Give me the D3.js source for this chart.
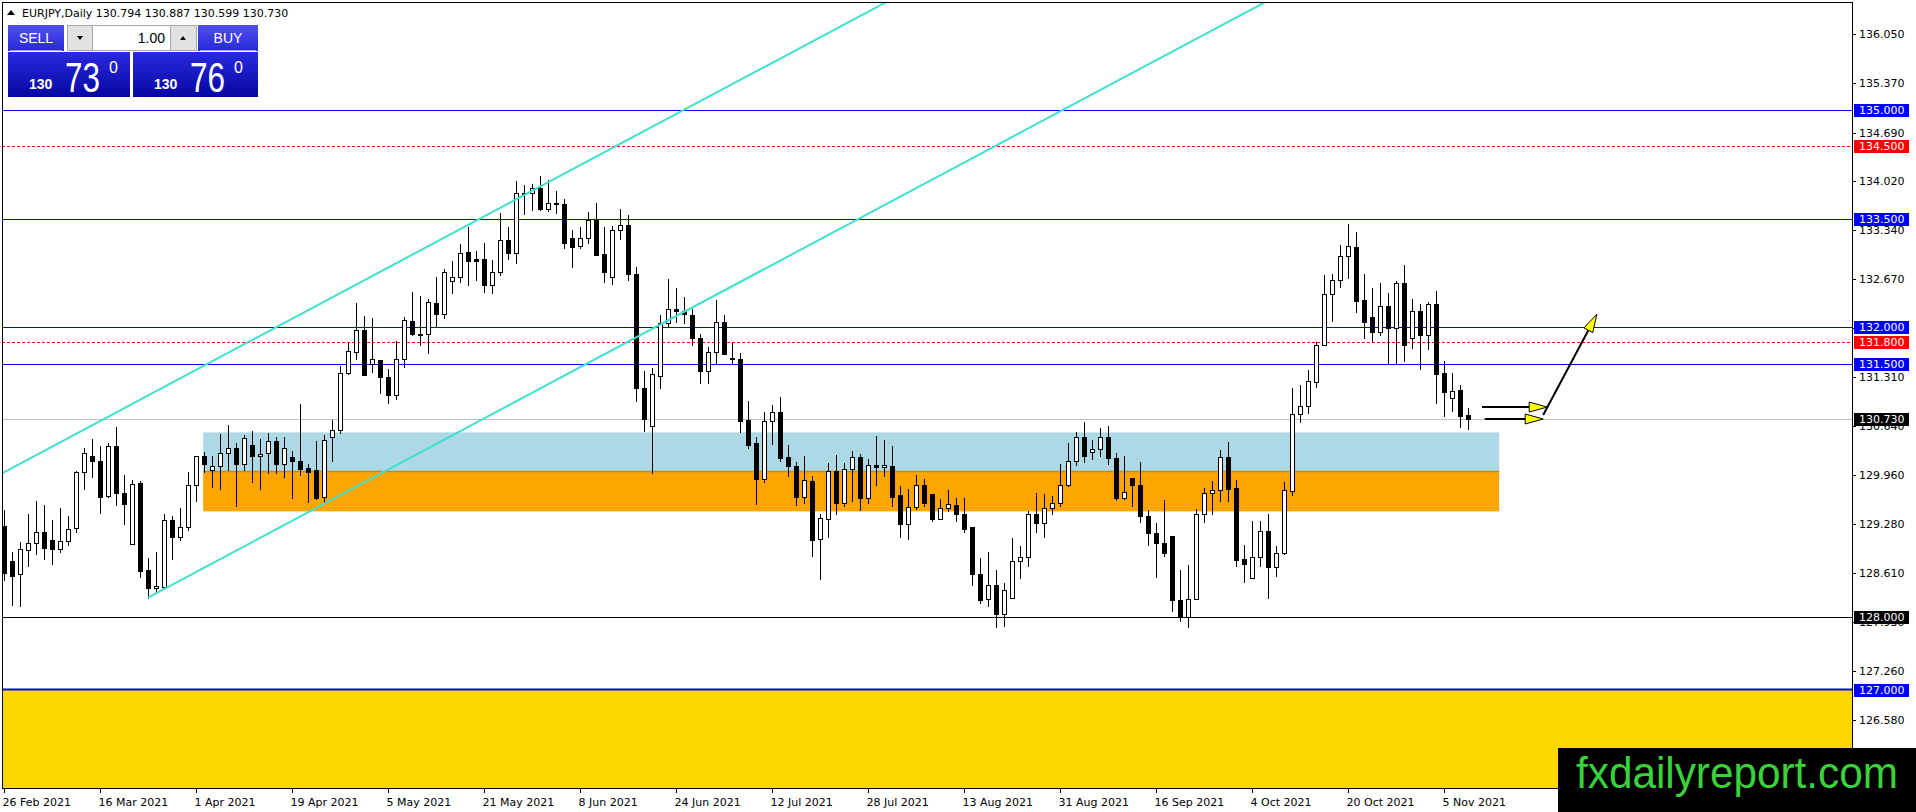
<!DOCTYPE html>
<html><head><meta charset="utf-8">
<script src="https://cdn.jsdelivr.net/npm/d3@7"></script>
<style>html,body{margin:0;padding:0;background:#fff;overflow:hidden}svg{display:block}</style>
</head><body>
<svg id="chart" width="1916" height="812"></svg>
<script>
// ---------------- DATA ----------------
const symbolTitle = "EURJPY,Daily";
const startDate = "2021-02-26";
const opens = [129.26,128.78,128.59,128.92,129.02,129.17,129.06,128.94,129.05,129.23,
130.00,130.22,130.16,129.67,130.36,129.72,129.01,129.85,128.65,128.40,
128.42,129.34,129.11,129.25,129.82,130.23,130.03,130.09,130.27,130.34,
130.11,130.38,130.22,130.26,130.43,130.11,130.21,130.16,130.06,130.03,
129.66,130.48,130.58,131.37,131.66,131.97,131.50,131.55,131.32,131.06,
131.57,132.09,131.91,131.91,132.34,132.19,132.64,132.69,133.04,132.94,
132.94,132.59,132.76,133.21,133.02,133.86,133.86,133.92,133.63,133.72,
133.70,133.23,133.12,133.23,133.48,133.01,132.69,133.35,133.42,132.73,
131.16,130.64,131.33,132.06,132.26,132.22,132.17,131.85,131.40,131.66,
132.07,131.58,131.57,130.72,130.40,129.91,130.71,130.83,130.21,130.09,
129.66,129.88,129.08,129.35,130.02,129.57,130.05,130.21,129.65,130.10,
130.07,130.09,129.69,129.28,129.52,129.82,129.70,129.35,129.50,129.55,
129.43,129.24,128.59,128.25,128.45,128.04,128.27,128.77,128.83,129.42,
129.30,129.50,129.57,129.83,130.16,130.49,130.28,130.32,130.49,130.19,
129.65,129.92,129.83,129.40,129.16,129.02,129.12,128.24,128.00,128.25,
129.43,129.72,129.75,130.21,129.78,128.80,128.54,128.83,129.19,128.69,
128.88,129.74,130.81,130.92,131.24,131.76,132.46,132.66,132.99,133.11,
132.38,132.14,131.93,132.30,131.99,132.61,131.86,132.22,131.89,132.32,
131.37,131.02,131.14,130.794];
const highs = [129.48,128.90,129.04,129.43,129.60,129.55,129.34,129.50,129.39,130.02,
130.34,130.46,130.36,130.41,130.62,129.96,129.90,129.88,128.81,128.90,
129.43,129.39,129.50,130.00,130.22,130.28,130.22,130.53,130.65,130.40,
130.52,130.57,130.46,130.54,130.49,130.49,130.29,130.94,130.11,130.43,
130.51,130.72,131.46,131.79,132.34,132.16,132.13,131.55,131.43,131.81,
132.14,132.49,132.43,132.39,132.70,132.81,132.92,133.15,133.39,133.05,
133.17,132.93,133.58,133.39,134.02,133.97,133.98,134.09,134.03,133.88,
133.77,133.34,133.38,133.59,133.72,133.39,133.40,133.64,133.55,132.83,
131.40,131.44,132.17,132.67,132.54,132.42,132.25,131.91,131.73,132.38,
132.17,131.80,131.65,130.98,130.49,130.83,130.93,131.04,130.38,130.14,
130.23,129.95,129.42,130.13,130.24,130.13,130.30,130.25,130.18,130.50,
130.45,130.36,129.81,129.77,129.96,129.91,129.70,129.63,129.76,129.65,
129.65,129.24,128.82,128.90,128.65,128.47,129.09,128.98,129.46,129.71,
129.70,129.67,130.11,130.41,130.55,130.69,130.45,130.61,130.64,130.26,
130.22,129.92,130.14,129.48,129.30,129.62,129.12,128.65,128.72,129.49,
129.78,129.88,130.31,130.42,129.90,128.99,129.33,129.33,129.43,128.98,
129.86,131.17,131.21,131.41,131.80,132.72,132.73,133.14,133.43,133.31,
132.73,132.55,132.61,132.47,132.64,132.86,132.39,132.32,132.35,132.50,
131.54,131.37,131.21,130.887];
const lows = [128.51,128.17,128.15,128.70,128.87,128.80,128.74,128.90,129.00,129.18,
129.77,129.94,129.44,129.66,129.55,129.28,129.01,128.56,128.27,128.34,
128.41,128.80,129.07,129.20,129.61,130.00,129.79,129.77,130.03,129.53,
130.03,129.86,129.77,129.99,129.99,129.94,129.65,129.96,129.59,129.63,
129.58,130.16,130.54,131.35,131.56,131.34,131.39,131.10,130.95,131.01,
131.45,131.90,131.75,131.64,132.00,132.13,132.47,132.63,132.59,132.65,
132.49,132.48,132.72,132.94,132.89,133.57,133.62,133.62,133.61,133.58,
133.10,132.84,133.09,133.16,133.00,132.62,132.60,133.22,132.65,130.99,
130.57,129.99,131.17,132.01,132.07,132.06,131.76,131.23,131.23,131.49,
131.63,131.49,130.56,130.34,129.56,129.87,130.39,130.15,129.95,129.55,
129.57,128.84,128.53,129.10,129.43,129.53,129.61,129.48,129.57,129.82,
129.95,129.54,129.10,129.08,129.49,129.53,129.33,129.35,129.46,129.33,
129.17,128.45,128.20,128.16,127.87,127.88,128.26,128.54,128.71,129.17,
129.10,129.43,129.54,129.81,130.10,130.14,130.18,130.23,130.11,129.62,
129.63,129.53,129.31,129.00,128.55,128.85,128.08,127.94,127.87,128.25,
129.32,129.42,129.60,129.61,128.71,128.49,128.54,128.70,128.27,128.57,
128.87,129.68,130.69,130.82,131.18,131.75,132.09,132.56,132.68,132.21,
131.86,131.80,131.90,131.51,131.49,131.54,131.72,131.42,131.70,130.96,
130.78,130.84,130.62,130.599];
const closes = [128.61,128.57,128.94,129.02,129.17,128.96,128.94,129.05,129.22,130.00,
130.26,130.15,129.66,130.36,129.72,129.56,129.84,128.64,128.40,128.43,
129.34,129.11,129.25,129.82,130.22,130.12,130.08,130.26,130.34,130.11,
130.47,130.22,130.25,130.43,130.11,130.33,130.15,130.04,130.01,129.65,
130.44,130.58,131.37,131.67,131.97,131.34,131.56,131.31,131.06,131.57,
132.10,131.91,131.90,132.35,132.19,132.76,132.69,133.02,132.92,132.92,
132.59,132.76,133.21,133.02,133.86,133.85,133.92,133.63,133.72,133.70,
133.17,133.11,133.23,133.48,133.00,132.76,133.35,133.41,132.73,131.17,
130.74,131.35,132.06,132.26,132.22,132.19,131.85,131.40,131.66,132.08,
131.63,131.57,130.71,130.38,129.91,130.71,130.83,130.20,130.08,129.66,
129.89,129.06,129.37,130.02,129.57,130.04,130.21,129.65,130.10,130.07,
130.10,129.66,129.28,129.52,129.82,129.57,129.35,129.50,129.56,129.43,
129.21,128.59,128.24,128.45,128.05,128.37,128.78,128.83,129.42,129.30,
129.50,129.57,129.83,130.16,130.49,130.22,130.32,130.49,130.19,129.65,
129.73,129.83,129.39,129.16,129.03,128.88,128.23,128.00,128.25,129.43,
129.72,129.75,130.21,129.77,128.79,128.74,128.83,129.19,128.69,128.88,
129.75,130.81,130.92,131.26,131.76,132.46,132.66,132.99,133.12,132.37,
132.08,131.93,132.30,131.99,132.61,131.75,132.22,131.89,132.32,131.36,
131.11,131.12,130.78,130.730];

const priceTicks = ["136.050","135.370","134.690","134.020","133.340","132.670","131.990",
  "131.310","130.640","129.960","129.280","128.610","127.930","127.260","126.580"];
const dateTicks = ["26 Feb 2021","16 Mar 2021","1 Apr 2021","19 Apr 2021","5 May 2021",
  "21 May 2021","8 Jun 2021","24 Jun 2021","12 Jul 2021","28 Jul 2021","13 Aug 2021",
  "31 Aug 2021","16 Sep 2021","4 Oct 2021","20 Oct 2021","5 Nov 2021"];

const blueLevels = [135.0, 133.5, 132.0, 131.5];
const blackLevels = [128.0];
const redLevels = [134.5, 131.8];
const floorLevel = 127.0;
const currentPrice = 130.730;
const zoneBars = [24.9, 186.9];
const blueZone = [130.55, 130.02];
const orangeZone = [130.02, 129.46];
const channelUpper = [[-1, 129.941], [140, 138.24]];
const channelLower = [[18, 128.27], [170, 137.217]];
const arrowsH = [[[184.75, 130.90], [192.9, 130.90]], [[185.1, 130.735], [192.4, 130.735]]];
const arrowUp = [[192.4, 130.79], [199.1, 132.18]];
const bidParts = ["130", "73", "0"];
const askParts = ["130", "76", "0"];
const lotSize = "1.00";

// ---------------- SETUP ----------------
const svg = d3.select("#chart");
const W = 1916, H = 812;
const plot = {left: 2, right: 1852, top: 2, bottom: 788};
const FONT = "DejaVu Sans, sans-serif";

const y = d3.scaleLinear().domain([126.58, 136.05]).range([720, 34]);
const x = d3.scaleLinear().domain([0, opens.length - 1]).range([4, 4 + 8 * (opens.length - 1)]);

// trading dates (weekdays)
const dates = [];
{
  let d = d3.timeParse("%Y-%m-%d")(startDate);
  while (dates.length < opens.length) {
    const wd = d.getDay();
    if (wd !== 0 && wd !== 6) dates.push(new Date(d));
    d = d3.timeDay.offset(d, 1);
  }
}
const fmtDate = d3.timeFormat("%-d %b %Y");
const bars = opens.map((o, i) => ({i, o, h: highs[i], l: lows[i], c: closes[i], date: dates[i]}));

svg.append("rect").attr("width", W).attr("height", H).attr("fill", "#fff");

const defs = svg.append("defs");
defs.append("clipPath").attr("id", "plotClip").append("rect")
  .attr("x", plot.left).attr("y", plot.top)
  .attr("width", plot.right - plot.left).attr("height", plot.bottom - plot.top);
const g1 = defs.append("linearGradient").attr("id", "btnGrad").attr("x1", 0).attr("x2", 0).attr("y1", 0).attr("y2", 1);
g1.append("stop").attr("offset", "0%").attr("stop-color", "#5050f0");
g1.append("stop").attr("offset", "100%").attr("stop-color", "#2828d6");
const g2 = defs.append("linearGradient").attr("id", "boxGrad").attr("x1", 0).attr("x2", 0).attr("y1", 0).attr("y2", 1);
g2.append("stop").attr("offset", "0%").attr("stop-color", "#2a2ae0");
g2.append("stop").attr("offset", "100%").attr("stop-color", "#0606a2");

const P = svg.append("g").attr("clip-path", "url(#plotClip)");

// floor yellow area
P.append("rect").attr("x", plot.left).attr("width", plot.right - plot.left)
  .attr("y", y(floorLevel)).attr("height", plot.bottom - y(floorLevel)).attr("fill", "#ffd700");

// zones
P.append("rect").attr("x", x(zoneBars[0])).attr("width", x(zoneBars[1]) - x(zoneBars[0]))
  .attr("y", y(blueZone[0])).attr("height", y(blueZone[1]) - y(blueZone[0])).attr("fill", "#add8e6");
P.append("rect").attr("x", x(zoneBars[0])).attr("width", x(zoneBars[1]) - x(zoneBars[0]))
  .attr("y", y(orangeZone[0])).attr("height", y(orangeZone[1]) - y(orangeZone[0])).attr("fill", "#ffa500");
P.append("line").attr("x1", x(zoneBars[0])).attr("x2", x(zoneBars[1]))
  .attr("y1", Math.round(y(orangeZone[0])) + 0.5).attr("y2", Math.round(y(orangeZone[0])) + 0.5)
  .attr("stroke", "#b08d3c").attr("stroke-width", 1.5);

// horizontal levels
const hl = (v, color, w, dash) => P.append("line")
  .attr("x1", plot.left).attr("x2", plot.right)
  .attr("y1", Math.round(y(v)) + 0.5).attr("y2", Math.round(y(v)) + 0.5)
  .attr("stroke", color).attr("stroke-width", w).attr("stroke-dasharray", dash || null)
  .attr("shape-rendering", "crispEdges");
hl(currentPrice, "#c0c0c0", 1);
blueLevels.forEach(v => hl(v, "#0000ff", 1));
blackLevels.forEach(v => hl(v, "#000000", 1));
redLevels.forEach(v => hl(v, "#ff0000", 1, "3,2"));
P.append("line").attr("x1", plot.left).attr("x2", plot.right)
  .attr("y1", y(floorLevel)).attr("y2", y(floorLevel)).attr("stroke", "#0000ff").attr("stroke-width", 2);

// candles
const cg = P.append("g").attr("shape-rendering", "crispEdges")
  .selectAll("g").data(bars).join("g");
cg.append("line")
  .attr("x1", d => Math.round(x(d.i)) + 0.5).attr("x2", d => Math.round(x(d.i)) + 0.5)
  .attr("y1", d => Math.round(y(d.h))).attr("y2", d => Math.round(y(d.l)) + 1)
  .attr("stroke", "#000");
cg.append("rect")
  .attr("x", d => Math.round(x(d.i)) - 1.5).attr("width", 4)
  .attr("y", d => Math.round(y(Math.max(d.o, d.c))) + 0.5)
  .attr("height", d => Math.max(1, Math.round(y(Math.min(d.o, d.c))) - Math.round(y(Math.max(d.o, d.c)))))
  .attr("fill", d => d.c >= d.o ? "#fff" : "#000").attr("stroke", "#000");

// channel lines
const lineGen = d3.line().x(d => x(d[0])).y(d => y(d[1]));
[channelUpper, channelLower].forEach(c => P.append("path").attr("d", lineGen(c))
  .attr("stroke", "#40e0d0").attr("stroke-width", 2).attr("fill", "none"));

// arrows
function arrowHead(p0, p1) {
  const x0 = x(p0[0]), y0 = y(p0[1]), x1 = x(p1[0]), y1 = y(p1[1]);
  const a = Math.atan2(y1 - y0, x1 - x0), L = 18, Wd = 5;
  const bx = x1 - L * Math.cos(a), by = y1 - L * Math.sin(a);
  const px = -Math.sin(a) * Wd, py = Math.cos(a) * Wd;
  return [[x1, y1], [bx + px, by + py], [bx - px, by - py]];
}
function drawArrow(seg) {
  const head = arrowHead(seg[0], seg[1]);
  P.append("line").attr("x1", x(seg[0][0])).attr("y1", y(seg[0][1]))
    .attr("x2", (head[1][0] + head[2][0]) / 2).attr("y2", (head[1][1] + head[2][1]) / 2)
    .attr("stroke", "#000").attr("stroke-width", 2);
  P.append("polygon").attr("points", head.map(p => p.join(",")).join(" "))
    .attr("fill", "#ffff00").attr("stroke", "#000").attr("stroke-width", 1);
}
arrowsH.forEach(drawArrow);
drawArrow(arrowUp);

// frame
svg.append("rect").attr("x", plot.left + 0.5).attr("y", plot.top + 0.5)
  .attr("width", plot.right - plot.left).attr("height", plot.bottom - plot.top)
  .attr("fill", "none").attr("stroke", "#000").attr("shape-rendering", "crispEdges");

// price axis
const ax = svg.append("g").attr("font-family", FONT).attr("font-size", 11);
priceTicks.forEach(t => {
  const yy = Math.round(y(+t)) + 0.5;
  ax.append("line").attr("x1", plot.right).attr("x2", plot.right + 4).attr("y1", yy).attr("y2", yy)
    .attr("stroke", "#000").attr("shape-rendering", "crispEdges");
  ax.append("text").attr("x", 1859).attr("y", yy).attr("dy", "0.36em").attr("fill", "#000").text(t);
});
function priceLabel(v, bg) {
  const yy = Math.round(y(v));
  ax.append("rect").attr("x", 1854).attr("y", yy - 6).attr("width", 55).attr("height", 13).attr("fill", bg);
  ax.append("text").attr("x", 1859).attr("y", yy + 0.5).attr("dy", "0.36em").attr("fill", "#fff").text(v.toFixed(3));
}
blueLevels.forEach(v => priceLabel(v, "#0000ff"));
redLevels.forEach(v => priceLabel(v, "#ff0000"));
priceLabel(floorLevel, "#0000ff");
blackLevels.forEach(v => priceLabel(v, "#000000"));
priceLabel(currentPrice, "#000000");

// date axis
const dx = svg.append("g").attr("font-family", FONT).attr("font-size", 11);
bars.filter(b => dateTicks.includes(fmtDate(b.date))).forEach(b => {
  const xx = Math.round(x(b.i)) + 0.5;
  dx.append("line").attr("x1", xx).attr("x2", xx).attr("y1", plot.bottom).attr("y2", plot.bottom + 5)
    .attr("stroke", "#000").attr("shape-rendering", "crispEdges");
  dx.append("text").attr("x", xx - 2).attr("y", 806).attr("fill", "#000").text(fmtDate(b.date));
});

// title
svg.append("polygon").attr("points", "7,15 11,10 15,15").attr("fill", "#000");
svg.append("text").attr("x", 22).attr("y", 17).attr("font-family", FONT).attr("font-size", 11)
  .attr("fill", "#000")
  .text(`${symbolTitle}  ${opens[opens.length-1].toFixed(3)} ${highs[highs.length-1].toFixed(3)} ${lows[lows.length-1].toFixed(3)} ${closes[closes.length-1].toFixed(3)}`);

// one-click panel
const pn = svg.append("g").attr("font-family", "Liberation Sans, Arial, sans-serif");
pn.append("rect").attr("x", 8).attr("y", 25).attr("width", 56).attr("height", 26).attr("fill", "url(#btnGrad)");
pn.append("rect").attr("x", 198).attr("y", 25).attr("width", 60).attr("height", 26).attr("fill", "url(#btnGrad)");
pn.append("line").attr("x1", 10).attr("x2", 62).attr("y1", 50.5).attr("y2", 50.5).attr("stroke", "#9a9af5");
pn.append("line").attr("x1", 200).attr("x2", 256).attr("y1", 50.5).attr("y2", 50.5).attr("stroke", "#9a9af5");
pn.append("text").attr("x", 36).attr("y", 43).attr("text-anchor", "middle").attr("font-size", 14).attr("fill", "#fff").text("SELL");
pn.append("text").attr("x", 228).attr("y", 43).attr("text-anchor", "middle").attr("font-size", 14).attr("fill", "#fff").text("BUY");
pn.append("rect").attr("x", 67.5).attr("y", 25.5).attr("width", 25).attr("height", 25).attr("fill", "#e2e2e2").attr("stroke", "#a8a8a8");
pn.append("rect").attr("x", 92.5).attr("y", 25.5).attr("width", 78).attr("height", 25).attr("fill", "#fff").attr("stroke", "#a8a8a8");
pn.append("rect").attr("x", 170.5).attr("y", 25.5).attr("width", 26).attr("height", 25).attr("fill", "#e2e2e2").attr("stroke", "#a8a8a8");
pn.append("polygon").attr("points", "77,36 83,36 80,40").attr("fill", "#000");
pn.append("polygon").attr("points", "180,40 186,40 183,36").attr("fill", "#000");
pn.append("text").attr("x", 165).attr("y", 43).attr("text-anchor", "end").attr("font-size", 14).attr("fill", "#000").text(lotSize);
pn.append("rect").attr("x", 8).attr("y", 52).attr("width", 122).attr("height", 45).attr("fill", "url(#boxGrad)");
pn.append("rect").attr("x", 133).attr("y", 52).attr("width", 125).attr("height", 45).attr("fill", "url(#boxGrad)");
function quote(x0, parts) {
  pn.append("text").attr("x", x0 + 21).attr("y", 89).attr("font-size", 14).attr("font-weight", "bold").attr("fill", "#fff").text(parts[0]);
  pn.append("text").attr("x", x0 + 57).attr("y", 92).attr("font-size", 42).attr("fill", "#fff")
    .attr("textLength", 35).attr("lengthAdjust", "spacingAndGlyphs").text(parts[1]);
  pn.append("text").attr("x", x0 + 101).attr("y", 73).attr("font-size", 16).attr("fill", "#fff").text(parts[2]);
}
quote(8, bidParts);
quote(133, askParts);

// watermark
svg.append("rect").attr("x", 1558).attr("y", 748).attr("width", 358).attr("height", 64).attr("fill", "#000");
svg.append("text").attr("x", 1576).attr("y", 788).attr("font-family", "Liberation Sans, Arial, sans-serif")
  .attr("font-size", 44).attr("fill", "#3ad23a").attr("textLength", 322).attr("lengthAdjust", "spacingAndGlyphs")
  .text("fxdailyreport.com");
</script>
</body></html>
